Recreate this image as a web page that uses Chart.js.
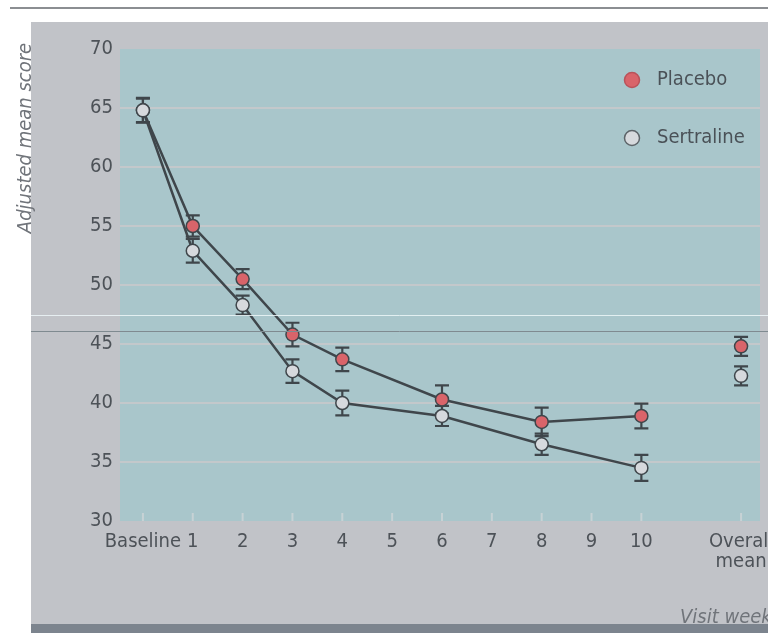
<!DOCTYPE html>
<html>
<head>
<meta charset="utf-8">
<script src="https://cdn.jsdelivr.net/npm/chart.js@4.4.1/dist/chart.umd.min.js"></script>
<style>
  html, body { margin: 0; padding: 0; background: #ffffff; }
  canvas { display: block; }
</style>
</head>
<body>
<canvas id="chart" width="768" height="633"></canvas>
<script>
// Visit weeks with a measurement (baseline = week 0)
const weeks = [0, 1, 2, 3, 4, 6, 8, 10];

// Adjusted mean scores and error-bar half-widths per visit
const placebo      = [64.8, 55.0, 50.5, 45.8, 43.7, 40.3, 38.4, 38.9];
const placeboErr   = [1.0, 0.9, 0.85, 1.0, 1.0, 1.2, 1.2, 1.05];
const sertraline    = [64.8, 52.9, 48.3, 42.7, 40.0, 38.9, 36.5, 34.5];
const sertralineErr = [1.05, 1.0, 0.8, 1.0, 1.05, 0.85, 0.9, 1.1];

// Overall mean over the follow-up, shown on its own at the right
const overallPos = 12;
const placeboOverall = 44.8, placeboOverallErr = 0.8;
const sertralineOverall = 42.3, sertralineOverallErr = 0.8;

// Horizontal axis ticks
const tickWeeks  = [0, 1, 2, 3, 4, 5, 6, 7, 8, 9, 10, 12];
const tickLabels = ['Baseline', '1', '2', '3', '4', '5', '6', '7', '8', '9', '10', ['Overall', 'mean']];

const FONT = "'DejaVu Sans Condensed', 'Liberation Sans', sans-serif";
const INK = '#3f464b';
const RED = '#d9646a';
const PALE = '#d6d9dd';
const LABEL = '#4d5258';

function pts(xs, ys) { return xs.map((x, i) => ({ x: x, y: ys[i] })); }

const backdrop = {
  id: 'backdrop',
  beforeDraw(chart) {
    const { ctx, chartArea: a, scales } = chart;
    ctx.save();
    ctx.fillStyle = '#ffffff';
    ctx.fillRect(0, 0, chart.width, chart.height);
    // top rule
    ctx.strokeStyle = '#8b8e92';
    ctx.lineWidth = 2;
    ctx.beginPath(); ctx.moveTo(10, 8); ctx.lineTo(chart.width, 8); ctx.stroke();
    // grey panel
    ctx.fillStyle = '#c1c3c8';
    ctx.fillRect(31, 22, chart.width - 31, 602);
    // plot area
    ctx.fillStyle = '#a9c6cb';
    ctx.fillRect(a.left, a.top, a.width, a.height);
    // short ticks inside the bottom edge
    ctx.strokeStyle = '#c7d2d5';
    ctx.lineWidth = 2;
    tickWeeks.forEach(w => {
      const x = scales.x.getPixelForValue(w);
      ctx.beginPath(); ctx.moveTo(x, a.bottom - 8); ctx.lineTo(x, a.bottom); ctx.stroke();
    });
    ctx.restore();
  }
};

const errorBars = {
  id: 'errorBars',
  beforeDatasetsDraw(chart) {
    const { ctx, scales: { x: xs, y: ys } } = chart;
    const sets = [
      [weeks, placebo, placeboErr],
      [weeks, sertraline, sertralineErr],
      [[overallPos], [placeboOverall], [placeboOverallErr]],
      [[overallPos], [sertralineOverall], [sertralineOverallErr]]
    ];
    ctx.save();
    ctx.strokeStyle = INK;
    ctx.lineWidth = 2.2;
    sets.forEach(([xv, yv, ev]) => {
      xv.forEach((w, i) => {
        const px = xs.getPixelForValue(w);
        const top = ys.getPixelForValue(yv[i] + ev[i]);
        const bot = ys.getPixelForValue(yv[i] - ev[i]);
        ctx.beginPath();
        ctx.moveTo(px, top); ctx.lineTo(px, bot);
        ctx.moveTo(px - 7, top); ctx.lineTo(px + 7, top);
        ctx.moveTo(px - 7, bot); ctx.lineTo(px + 7, bot);
        ctx.stroke();
      });
    });
    ctx.restore();
  }
};

const overlay = {
  id: 'overlay',
  afterDraw(chart) {
    const { ctx } = chart;
    ctx.save();
    // legend
    const items = [
      { label: 'Placebo', fill: RED, stroke: '#b9525a', y: 80 },
      { label: 'Sertraline', fill: PALE, stroke: '#5d6469', y: 138 }
    ];
    items.forEach(it => {
      ctx.beginPath();
      ctx.arc(632, it.y, 7.5, 0, Math.PI * 2);
      ctx.fillStyle = it.fill; ctx.fill();
      ctx.lineWidth = 1.5; ctx.strokeStyle = it.stroke; ctx.stroke();
      ctx.fillStyle = '#4a5157';
      ctx.font = '20px ' + FONT;
      ctx.textAlign = 'left';
      ctx.textBaseline = 'middle';
      ctx.fillText(it.label, 657, it.y);
    });
    // axis titles
    ctx.fillStyle = '#70747a';
    ctx.font = 'italic 20px ' + FONT;
    ctx.save();
    ctx.translate(26, 138);
    ctx.rotate(-Math.PI / 2);
    ctx.textAlign = 'center';
    ctx.textBaseline = 'middle';
    ctx.fillText('Adjusted mean score', 0, 0);
    ctx.restore();
    ctx.textAlign = 'left';
    ctx.textBaseline = 'alphabetic';
    ctx.fillText('Visit week', 680, 623);
    // fold lines across the panel
    ctx.lineWidth = 1;
    ctx.strokeStyle = 'rgba(236,246,248,0.85)';
    ctx.beginPath(); ctx.moveTo(31, 315.5); ctx.lineTo(chart.width, 315.5); ctx.stroke();
    ctx.strokeStyle = '#7f8a90';
    ctx.beginPath(); ctx.moveTo(31, 331.5); ctx.lineTo(chart.width, 331.5); ctx.stroke();
    // bottom band
    ctx.fillStyle = '#7c848e';
    ctx.fillRect(31, 624, chart.width - 31, chart.height - 624);
    ctx.restore();
  }
};

const lineStyle = {
  borderColor: INK,
  borderWidth: 2.5,
  pointRadius: 6.5,
  pointBorderWidth: 1.5,
  pointBorderColor: INK,
  tension: 0
};

new Chart(document.getElementById('chart'), {
  type: 'line',
  data: {
    datasets: [
      Object.assign({ label: 'Sertraline', data: pts(weeks, sertraline), pointBackgroundColor: PALE, order: 0 }, lineStyle),
      Object.assign({ label: 'Placebo', data: pts(weeks, placebo), pointBackgroundColor: RED, order: 1 }, lineStyle),
      Object.assign({ label: 'Sertraline overall', data: [{ x: overallPos, y: sertralineOverall }], pointBackgroundColor: PALE, showLine: false, order: 2 }, lineStyle),
      Object.assign({ label: 'Placebo overall', data: [{ x: overallPos, y: placeboOverall }], pointBackgroundColor: RED, showLine: false, order: 3 }, lineStyle)
    ]
  },
  options: {
    responsive: false,
    animation: false,
    devicePixelRatio: 1,
    layout: { padding: { left: 0, right: 7, top: 49, bottom: 52 } },
    plugins: { legend: { display: false }, tooltip: { enabled: false } },
    scales: {
      x: {
        type: 'linear',
        min: -0.46,
        max: 12.38,
        afterBuildTicks: s => { s.ticks = tickWeeks.map(v => ({ value: v })); },
        afterFit: s => { s.height = 60; s.paddingLeft = 0; s.paddingRight = 0; },
        grid: { display: false },
        border: { display: false },
        ticks: {
          autoSkip: false,
          maxRotation: 0,
          padding: 3,
          color: LABEL,
          font: { family: FONT, size: 20, lineHeight: 1.0 },
          callback: v => tickLabels[tickWeeks.indexOf(v)]
        }
      },
      y: {
        min: 30,
        max: 70,
        afterFit: s => { s.width = 120; s.paddingTop = 0; s.paddingBottom = 0; },
        grid: {
          drawTicks: false,
          lineWidth: 2,
          color: c => (c.tick.value === 30 || c.tick.value === 70) ? 'rgba(0,0,0,0)' : '#c3c8cb'
        },
        border: { display: false },
        ticks: {
          stepSize: 5,
          padding: 7,
          color: LABEL,
          font: { family: FONT, size: 20 }
        }
      }
    }
  },
  plugins: [backdrop, errorBars, overlay]
});
</script>
</body>
</html>
